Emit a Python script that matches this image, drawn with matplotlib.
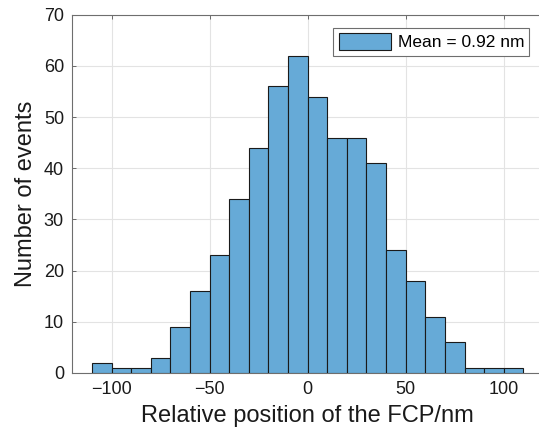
import numpy as np
from matplotlib import pyplot as plt

plt.rcParams['font.family'] = ['Liberation Sans', 'DejaVu Sans']

# histogram bins (nm) and counts
bin_edges = np.arange(-110, 111, 10)
counts = [2, 1, 1, 3, 9, 16, 23, 34, 44, 56, 62,
          54, 46, 46, 41, 24, 18, 11, 6, 1, 1, 1]
legend_label = 'Mean = 0.92 nm'
x_ticks = [-100, -50, 0, 50, 100]
y_ticks = [0, 10, 20, 30, 40, 50, 60, 70]

fig = plt.figure(figsize=(5.39, 4.30), dpi=100)
ax = fig.add_axes([0.1341, 0.1326, 0.8733, 0.8332])

ax.hist(bin_edges[:-1], bins=bin_edges, weights=counts,
        facecolor='#66aad7', edgecolor='#1a1a1a', linewidth=0.8,
        label=legend_label, zorder=3)

ax.set_xlim(-120, 120)
ax.set_ylim(0, 70)
ax.set_xticks(x_ticks)
ax.set_yticks(y_ticks)
ax.set_xticklabels(['\u2212100', '\u221250', '0', '50', '100'])
ax.tick_params(direction='in', length=3, width=0.6, labelsize=13,
               colors='#555555', labelcolor='#1a1a1a', top=True, right=False, pad=6)
ax.grid(True, color='#e3e3e3', linewidth=0.8, zorder=0)
ax.set_axisbelow(True)
for s in ax.spines.values():
    s.set_color('#6e6e6e')
    s.set_linewidth(0.8)
ax.spines['right'].set_visible(False)

ax.set_xlabel('Relative position of the FCP/nm', fontsize=17, color='#1a1a1a', labelpad=5)
ax.set_ylabel('Number of events', fontsize=17, color='#1a1a1a', labelpad=5)

leg = ax.legend(loc='upper right', bbox_to_anchor=(0.982, 0.935), bbox_transform=fig.transFigure,
                borderaxespad=0, fontsize=12.5, fancybox=False, framealpha=1,
                edgecolor='#6e6e6e', handlelength=3.0, handleheight=1.1,
                handletextpad=0.4, borderpad=0.3)
leg.get_frame().set_linewidth(0.8)

plt.savefig('out.png', dpi=100)
